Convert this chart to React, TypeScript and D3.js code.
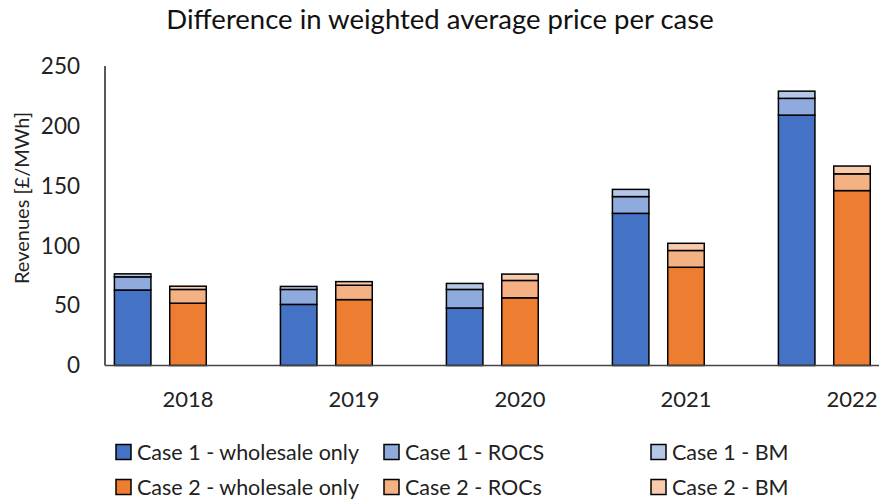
import React, { useEffect, useRef } from 'react';
import * as d3 from 'd3';

// chart data
const years: string[] = ['2018', '2019', '2020', '2021', '2022'];
const case1Wholesale: number[] = [63, 51, 48, 127, 209];
const case1Rocs: number[] = [11, 12.5, 15.5, 14, 14];
const case1Bm: number[] = [2.5, 2.5, 5, 6, 6];
const case2Wholesale: number[] = [52, 55, 56.5, 82, 146];
const case2Rocs: number[] = [11.5, 12, 14.5, 14, 14];
const case2Bm: number[] = [2.7, 3, 5.3, 6, 6.5];
const yTicks: number[] = [0, 50, 100, 150, 200, 250];

const legendItems = [
  { label: 'Case 1 - wholesale only', color: '#4472C4' },
  { label: 'Case 1 - ROCS', color: '#8FAADC' },
  { label: 'Case 1 - BM', color: '#B4C7E7' },
  { label: 'Case 2 - wholesale only', color: '#ED7D31' },
  { label: 'Case 2 - ROCs', color: '#F4B183' },
  { label: 'Case 2 - BM', color: '#F8CBAD' },
];

const FONT = 'Lato, "Open Sans", sans-serif';

const App: React.FC = () => {
  const svgRef = useRef<SVGSVGElement | null>(null);

  useEffect(() => {
    const width = 879;
    const height = 499;
    const margin = { top: 66, left: 105, bottom: 134 };
    const bandStep = 166;

    const svg = d3.select(svgRef.current)
      .attr('width', width)
      .attr('height', height);
    svg.selectAll('*').remove();

    // x runs past the right edge, like the original crop
    const xScale = d3.scaleBand<string>()
      .domain(years)
      .range([margin.left, margin.left + bandStep * years.length])
      .padding(0);

    const inner = d3.scaleBand<string>()
      .domain(['c1', 'c2', 'empty'])
      .range([0, xScale.bandwidth()])
      .padding(0);

    const yScale = d3.scaleLinear()
      .domain([0, 250])
      .range([height - margin.bottom + 0.5, margin.top]);

    const barW = inner.bandwidth() * 0.66;

    const cases = [
      { key: 'c1', series: [case1Wholesale, case1Rocs, case1Bm], colors: ['#4472C4', '#8FAADC', '#B4C7E7'] },
      { key: 'c2', series: [case2Wholesale, case2Rocs, case2Bm], colors: ['#ED7D31', '#F4B183', '#F8CBAD'] },
    ];

    cases.forEach((c) => {
      const rows = years.map((y, i) => ({ year: y, a: c.series[0][i], b: c.series[1][i], m: c.series[2][i] }));
      const stacked = d3.stack<any>().keys(['a', 'b', 'm'])(rows);
      stacked.forEach((layer, li) => {
        svg.append('g')
          .selectAll('rect')
          .data(layer)
          .enter()
          .append('rect')
          .attr('x', (d: any) => (xScale(d.data.year) || 0) + (inner(c.key) || 0) + (inner.bandwidth() - barW) / 2)
          .attr('y', (d) => yScale(d[1]))
          .attr('width', barW)
          .attr('height', (d) => yScale(d[0]) - yScale(d[1]))
          .attr('fill', c.colors[li])
          .attr('stroke', '#000')
          .attr('stroke-width', 1.5);
      });
    });

    // axes lines
    const y0 = yScale(0);
    svg.append('line')
      .attr('x1', margin.left).attr('x2', margin.left)
      .attr('y1', yScale(250)).attr('y2', y0)
      .attr('stroke', '#222').attr('stroke-width', 1.5);
    svg.append('line')
      .attr('x1', margin.left).attr('x2', width)
      .attr('y1', y0).attr('y2', y0)
      .attr('stroke', '#444').attr('stroke-width', 1.5);

    // y tick labels
    svg.append('g')
      .selectAll('text')
      .data(yTicks)
      .enter()
      .append('text')
      .attr('x', 80)
      .attr('y', (d) => yScale(d))
      .attr('dy', '0.35em')
      .attr('text-anchor', 'end')
      .attr('font-family', FONT)
      .attr('font-size', 22.5)
      .attr('fill', '#222')
      .text((d) => d);

    // x labels
    svg.append('g')
      .selectAll('text')
      .data(years)
      .enter()
      .append('text')
      .attr('x', (d) => (xScale(d) || 0) + xScale.bandwidth() / 2)
      .attr('y', 399)
      .attr('dy', '0.35em')
      .attr('text-anchor', 'middle')
      .attr('font-family', FONT)
      .attr('font-size', 22)
      .attr('fill', '#222')
      .text((d) => d);

    // y axis title
    svg.append('text')
      .attr('transform', 'translate(22,198) rotate(-90)')
      .attr('dy', '0.35em')
      .attr('text-anchor', 'middle')
      .attr('font-family', FONT)
      .attr('font-size', 20)
      .attr('fill', '#222')
      .text('Revenues [£/MWh]');

    // title
    svg.append('text')
      .attr('x', 440)
      .attr('y', 19)
      .attr('dy', '0.35em')
      .attr('text-anchor', 'middle')
      .attr('font-family', FONT)
      .attr('font-size', 27.5)
      .attr('fill', '#111')
      .text('Difference in weighted average price per case');

    // legend
    const colX = [116, 384, 651];
    const rowY = [452, 487];
    const lg = svg.append('g');
    legendItems.forEach((item, i) => {
      const col = i % 3;
      const row = Math.floor(i / 3);
      const g = lg.append('g').attr('transform', `translate(${colX[col]},${rowY[row]})`);
      g.append('rect')
        .attr('x', 0).attr('y', -7.5)
        .attr('width', 15).attr('height', 15)
        .attr('fill', item.color)
        .attr('stroke', '#000').attr('stroke-width', 1.5);
      g.append('text')
        .attr('x', 21)
        .attr('y', 0)
        .attr('dy', '0.35em')
        .attr('font-family', FONT)
        .attr('font-size', 21.5)
        .attr('fill', '#222')
        .text(item.label);
    });
  }, []);

  return (
    <svg ref={svgRef} style={{ position: 'absolute', left: 0, top: 0, background: '#fff' }}></svg>
  );
};

export default App;
